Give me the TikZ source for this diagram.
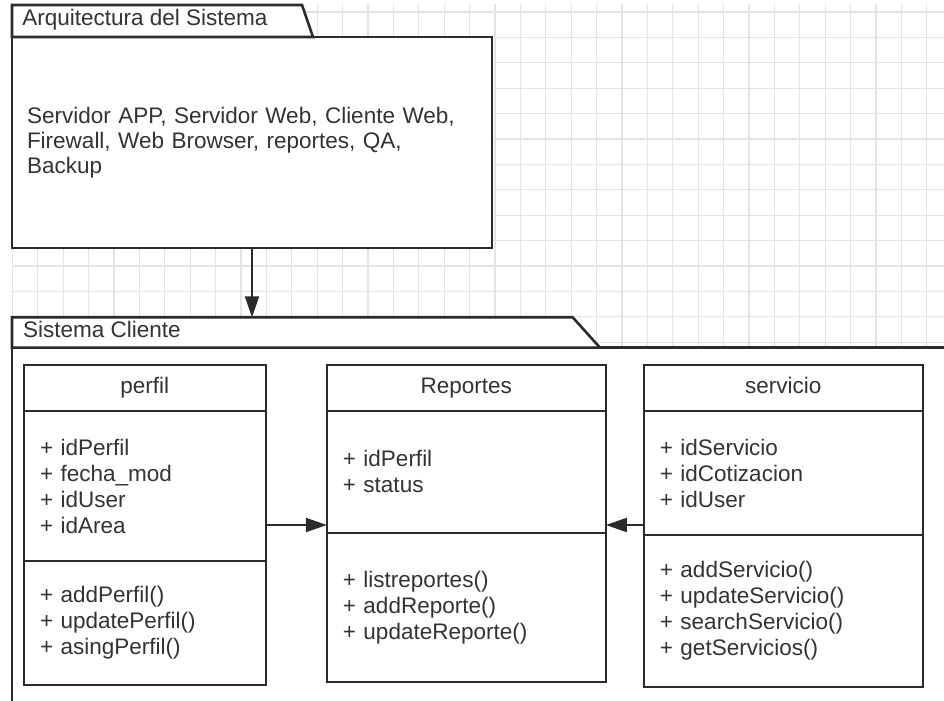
\documentclass[tikz,border=0pt]{standalone}
\usepackage{fontspec}
\setmainfont{Liberation Sans}
\usepackage{tikz}
\usetikzlibrary{positioning,arrows.meta,calc}
\usepackage{xcolor}
\definecolor{ink}{HTML}{333333}
\definecolor{edge}{HTML}{2B2B2B}
\definecolor{gridline}{HTML}{E4E4E4}

\begin{document}
\begin{tikzpicture}[
    x=0.5pt, y=-0.5pt,
    every node/.style={font=\fontsize{11.25}{13}\selectfont, text=ink},
    pkgbody/.style={draw=edge, line width=1.3pt, fill=white, outer sep=0pt, inner xsep=7.5pt, align=left},
    pkgline/.style={draw=edge, line width=1.3pt, fill=white},
    pkgname/.style={anchor=base west, inner sep=0pt},
    cls/.style={draw=edge, line width=1pt, fill=white, outer sep=0pt, inner xsep=8pt},
    clshead/.style={cls, align=center, minimum height=23pt, text height=8.3pt, text depth=2.4pt},
    clsbody/.style={cls, align=left},
    narrow/.style={text width=104.85pt},
    wide/.style={text width=123.5pt},
    flow/.style={draw=edge, line width=1pt, -{Triangle[length=10.5pt, width=7pt]}},
  ]
    \useasboundingbox (0,0) rectangle (944,701);
    \clip (0,0) rectangle (944,701);
    \fill[white] (0,0) rectangle (944,701);
    \draw[gridline, line width=0.6pt, shift={(12.4,12)}] (-0.4,-8) grid[step=12.7pt] (931.6,689);

    % paquete de arquitectura
    \node[pkgbody, minimum width=240pt, minimum height=105.5pt, text width=225pt,
      font=\fontsize{11.25}{12.5}\selectfont] (arq) at (252,142.5)
      {Servidor APP, Servidor Web, Cliente Web,\\Firewall, Web Browser, reportes, QA,\\Backup};
    \draw[pkgline] (arq.north west) -- ++(0,-32) -- ++(290,0) -- ++(11,32) -- cycle;
    \node[pkgname] (arqname) at ($(arq.north west)+(10,-11)$) {Arquitectura del Sistema};

    % paquete del cliente
    \coordinate (cli) at (12,347.7);
    \draw[pkgline] (cli) rectangle (970,730);
    \draw[pkgline] (cli) -- ++(0,-30.4) coordinate (clitop) -- ++(560.7,0) -- ++(27.3,30.4) -- cycle;
    \node[pkgname] (cliname) at ($(cli)+(10.7,-10)$) {Sistema Cliente};

    \draw[flow] (arq.south) -- (arq.south |- clitop);

    % clases
    \node[clshead, narrow] (perfil) at (144.85,388) {perfil};
    \node[clsbody, narrow, minimum height=75pt, below=0pt of perfil] (perfil-attr)
      {+ idPerfil\\+ fecha\_mod\\+ idUser\\+ idArea};
    \node[clsbody, narrow, minimum height=62.15pt, below=0pt of perfil-attr] (perfil-meth)
      {+ addPerfil()\\+ updatePerfil()\\+ asingPerfil()};

    \node[clshead, wide] (rep) at (466.35,388) {Reportes};
    \node[clsbody, wide, minimum height=60.85pt, below=0pt of rep] (rep-attr)
      {+ idPerfil\\+ status};
    \node[clsbody, wide, minimum height=74.5pt, below=0pt of rep-attr] (rep-meth)
      {+ listreportes()\\+ addReporte()\\+ updateReporte()};

    \node[clshead, wide] (serv) at (783.35,388) {servicio};
    \node[clsbody, wide, minimum height=62pt, below=0pt of serv] (serv-attr)
      {+ idServicio\\+ idCotizacion\\+ idUser};
    \node[clsbody, wide, minimum height=75.85pt, below=0pt of serv-attr] (serv-meth)
      {+ addServicio()\\+ updateServicio()\\+ searchServicio()\\+ getServicios()};

    \coordinate (rep-in-l) at ([yshift=3.85pt]rep-attr.south west);
    \coordinate (rep-in-r) at ([yshift=3.85pt]rep-attr.south east);
    \draw[flow] (perfil-attr.east |- rep-in-l) -- (rep-in-l);
    \draw[flow] (serv-attr.west |- rep-in-r) -- (rep-in-r);
  \end{tikzpicture}
\end{document}
